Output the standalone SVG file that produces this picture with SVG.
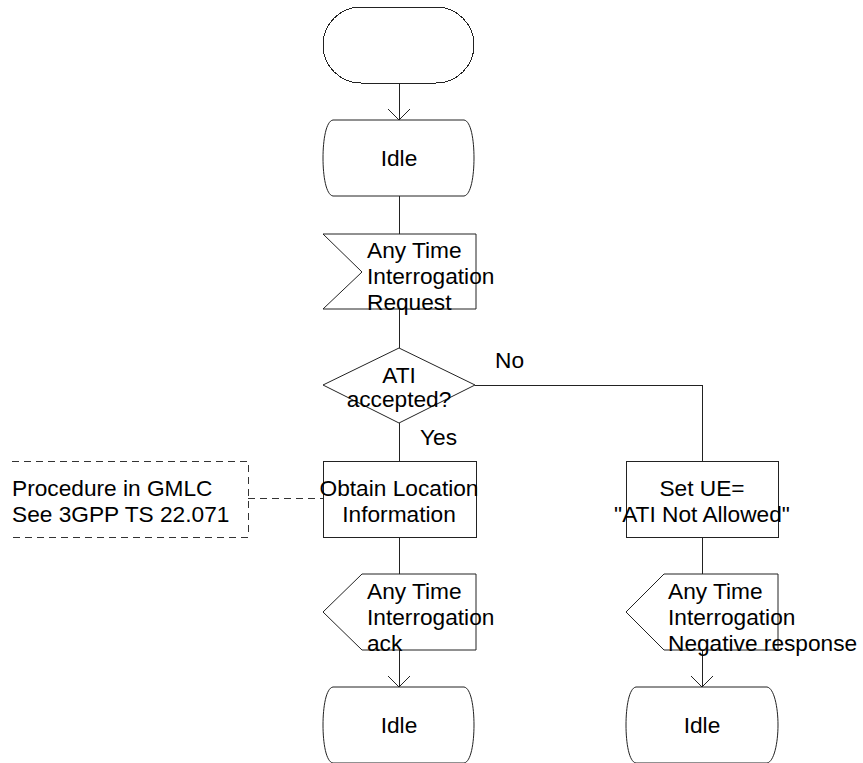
<svg xmlns="http://www.w3.org/2000/svg" width="863" height="763" viewBox="0 0 863 763">
<style>
.s{fill:#fff;stroke:#222;stroke-width:1}
.c{fill:none;stroke:#222;stroke-width:1}
.d{fill:none;stroke:#333;stroke-width:1;stroke-dasharray:7 5;shape-rendering:crispEdges}
line.c,rect.s{shape-rendering:crispEdges}
text{font-family:"Liberation Sans",Arial,sans-serif;font-size:22.7px;fill:#000}
.m{text-anchor:middle}
</style>
<rect width="863" height="763" fill="#fff"/>
<g id="connectors">
<line class="c" x1="399" y1="83" x2="399" y2="120"/>
<polyline class="c" points="388,109 399,120 410,109"/>
<line class="c" x1="399" y1="196" x2="399" y2="234"/>
<line class="c" x1="399" y1="309" x2="399" y2="348"/>
<polyline class="c" points="475,385 702,385 702,461" shape-rendering="crispEdges"/>
<line class="c" x1="399" y1="423" x2="399" y2="461"/>
<line class="c" x1="399" y1="537" x2="399" y2="574"/>
<line class="c" x1="399" y1="650" x2="399" y2="687"/>
<polyline class="c" points="388,676 399,687 410,676"/>
<line class="c" x1="702" y1="537" x2="702" y2="574"/>
<line class="c" x1="702" y1="650" x2="702" y2="687"/>
<polyline class="c" points="691,676 702,687 713,676"/>
<line class="d" x1="248" y1="498" x2="323" y2="498"/>
<text x="495" y="368">No</text>
<text x="420" y="445">Yes</text>
</g>
<g id="start">
<rect class="s" x="323" y="7" width="151" height="76" rx="38" ry="38" shape-rendering="auto"/>
</g>
<g id="idle1">
<path class="s" d="M333,120 L464,120 C471,121 474,140 474,158 C474,176 471,195 464,196 L333,196 C326,195 323,176 323,158 C323,140 326,121 333,120 Z"/>
<text class="m" x="399" y="166">Idle</text>
</g>
<g id="input">
<polygon class="s" points="323,234 476,234 476,309 323,309 362,272"/>
<text x="367" y="258">Any Time</text>
<text x="367" y="284">Interrogation</text>
<text x="367" y="310">Request</text>
</g>
<g id="decision">
<polygon class="s" points="399,348 475,385 399,423 323,385"/>
<text class="m" x="399" y="383">ATI</text>
<text class="m" x="399" y="407">accepted?</text>
</g>
<g id="obtain">
<rect class="s" x="323" y="461" width="153" height="76"/>
<text class="m" x="399" y="496">Obtain Location</text>
<text class="m" x="399" y="522">Information</text>
</g>
<g id="comment">
<polyline class="d" points="12,461 248,461 248,537 12,537"/>
<text x="12" y="496">Procedure in GMLC</text>
<text x="12" y="522">See 3GPP TS 22.071</text>
</g>
<g id="setue">
<rect class="s" x="626" y="461" width="152" height="76"/>
<text class="m" x="702" y="496">Set UE=</text>
<text class="m" x="702" y="522">"ATI Not Allowed"</text>
</g>
<g id="output1">
<polygon class="s" points="362,574 476,574 476,650 362,650 323,612"/>
<text x="367" y="599">Any Time</text>
<text x="367" y="625">Interrogation</text>
<text x="367" y="651">ack</text>
</g>
<g id="output2">
<polygon class="s" points="664,574 778,574 778,650 664,650 626,612"/>
<text x="668" y="599">Any Time</text>
<text x="668" y="625">Interrogation</text>
<text x="668" y="651">Negative response</text>
</g>
<g id="idle2">
<path class="s" d="M333,687 L464,687 C471,688 474,707 474,725 C474,743 471,762 464,763 L333,763 C326,762 323,743 323,725 C323,707 326,688 333,687 Z"/>
<text class="m" x="399" y="733">Idle</text>
</g>
<g id="idle3">
<path class="s" d="M636,687 L767,687 C774,688 778,707 778,725 C778,743 774,762 767,763 L636,763 C629,762 626,743 626,725 C626,707 629,688 636,687 Z"/>
<text class="m" x="702" y="733">Idle</text>
</g>
</svg>
